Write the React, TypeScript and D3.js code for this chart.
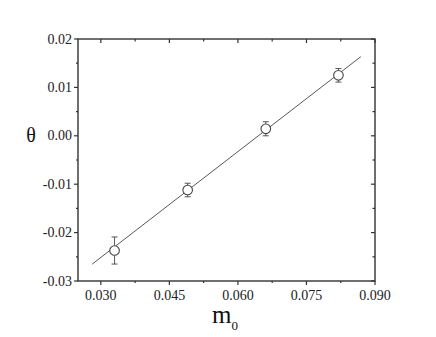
import React from "react";
import * as d3 from "d3";

// measured points (m0, theta, error)
const m0 = [0.033, 0.049, 0.0661, 0.082];
const theta = [-0.0237, -0.0112, 0.00145, 0.0125];
const thetaErr = [0.0028, 0.0014, 0.00145, 0.0014];

// linear fit, drawn between these two m0 values
const fitSlope = 0.729;
const fitIntercept = -0.0470;
const fitRange = [0.0281, 0.0869];

const xTicks = [0.03, 0.045, 0.06, 0.075, 0.09];
const xMinor = [0.0375, 0.0525, 0.0675, 0.0825];
const yTicks = [-0.03, -0.02, -0.01, 0.0, 0.01, 0.02];
const yMinor = [-0.025, -0.015, -0.005, 0.005, 0.015];

const W = 436;
const H = 337;
const margin = { left: 78, top: 39, right: 61, bottom: 56 };
const col = "#333";
const serif = { fontFamily: "Liberation Serif, DejaVu Serif, serif" };

export default function App() {
  const x = d3.scaleLinear().domain([0.025, 0.09]).range([margin.left, W - margin.right]);
  const y = d3.scaleLinear().domain([-0.03, 0.02]).range([H - margin.bottom, margin.top]);
  const [x0, x1] = x.range();
  const [y0, y1] = y.range();

  const fitLine = d3
    .line<number>()
    .x((d) => x(d))
    .y((d) => y(fitSlope * d + fitIntercept));

  const pts = m0.map((v, i) => ({ m: v, t: theta[i], e: thetaErr[i] }));

  return (
    <svg
      width={W}
      height={H}
      style={{ position: "absolute", left: 0, top: 0, background: "#fff" }}
    >
      {/* frame */}
      <rect x={x0} y={y1} width={x1 - x0} height={y0 - y1} fill="none" stroke={col} strokeWidth={1.4} />

      {/* bottom ticks (out), top ticks (in) */}
      {xTicks.map((t) => (
        <g key={"xt" + t}>
          <line x1={x(t)} x2={x(t)} y1={y0} y2={y0 + 4} stroke={col} strokeWidth={1.2} />
          <line x1={x(t)} x2={x(t)} y1={y1} y2={y1 + 4} stroke={col} strokeWidth={1.2} />
          <text x={x(t)} y={y0 + 19} textAnchor="middle" fontSize={14} fill="#222" style={serif}>
            {d3.format(".3f")(t)}
          </text>
        </g>
      ))}
      {xMinor.map((t) => (
        <g key={"xm" + t}>
          <line x1={x(t)} x2={x(t)} y1={y0} y2={y0 + 2} stroke={col} strokeWidth={1.2} />
          <line x1={x(t)} x2={x(t)} y1={y1} y2={y1 + 2.5} stroke={col} strokeWidth={1.2} />
        </g>
      ))}

      {/* left ticks (out), right ticks (in) */}
      {yTicks.map((t) => (
        <g key={"yt" + t}>
          <line x1={x0 - 4} x2={x0} y1={y(t)} y2={y(t)} stroke={col} strokeWidth={1.2} />
          <line x1={x1 - 4} x2={x1} y1={y(t)} y2={y(t)} stroke={col} strokeWidth={1.2} />
          <text x={x0 - 6} y={y(t) + 4.5} textAnchor="end" fontSize={14} fill="#222" style={serif}>
            {d3.format(".2f")(t).replace("−", "-")}
          </text>
        </g>
      ))}
      {yMinor.map((t) => (
        <g key={"ym" + t}>
          <line x1={x0 - 2} x2={x0} y1={y(t)} y2={y(t)} stroke={col} strokeWidth={1.2} />
          <line x1={x1 - 2.5} x2={x1} y1={y(t)} y2={y(t)} stroke={col} strokeWidth={1.2} />
        </g>
      ))}

      {/* fit */}
      <path d={fitLine(fitRange) ?? ""} fill="none" stroke="#444" strokeWidth={0.9} />

      {/* data with error bars */}
      {pts.map((p, i) => (
        <g key={i} stroke="#444" strokeWidth={0.9} fill="none">
          <line x1={x(p.m)} x2={x(p.m)} y1={y(p.t + p.e)} y2={y(p.t) - 5} />
          <line x1={x(p.m)} x2={x(p.m)} y1={y(p.t) + 5} y2={y(p.t - p.e)} />
          <line x1={x(p.m) - 3} x2={x(p.m) + 3} y1={y(p.t + p.e)} y2={y(p.t + p.e)} />
          <line x1={x(p.m) - 3} x2={x(p.m) + 3} y1={y(p.t - p.e)} y2={y(p.t - p.e)} />
          <circle cx={x(p.m)} cy={y(p.t)} r={4.8} fill="#fff" strokeWidth={1.1} />
        </g>
      ))}

      {/* axis titles */}
      <text x={31} y={142} fontSize={20} textAnchor="middle" fill="#111" style={serif}>θ</text>
      <text x={212} y={323} fontSize={25} fill="#111" style={serif}>
        m<tspan fontSize={13} dy={7}>0</tspan>
      </text>
    </svg>
  );
}
